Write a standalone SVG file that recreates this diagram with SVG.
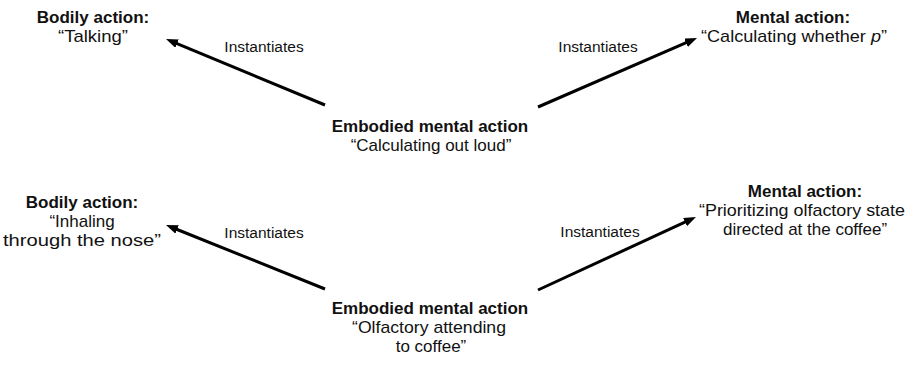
<svg xmlns="http://www.w3.org/2000/svg" width="913" height="365" viewBox="0 0 913 365">
<style>
text{font-family:"Liberation Sans",Arial,sans-serif;fill:#111;text-anchor:middle;font-size:17px}
.h{font-weight:bold}
.l{font-size:15.5px}
.c{stroke:#000;stroke-width:3;fill:none;marker-end:url(#ah)}
</style>
<defs>
<marker id="ah" markerUnits="userSpaceOnUse" markerWidth="13" markerHeight="10" refX="4" refY="4.5" orient="auto">
<path d="M0,0 L12,4.5 L0,9 z" fill="#000"/>
</marker>
</defs>
<rect width="913" height="365" fill="#fff"/>
<g id="connectors">
<line class="c" x1="325" y1="105" x2="173.4" y2="42.1"/>
<line class="c" x1="538" y1="107" x2="689.7" y2="41.2"/>
<line class="c" x1="325" y1="289" x2="173.4" y2="228"/>
<line class="c" x1="538" y1="290" x2="688.7" y2="220.4"/>
<text class="l" x="264" y="52">Instantiates</text>
<text class="l" x="598" y="52">Instantiates</text>
<text class="l" x="264" y="238">Instantiates</text>
<text class="l" x="600" y="237">Instantiates</text>
</g>
<g id="bodily1">
<text class="h" x="93" y="22.5">Bodily action:</text>
<text x="93" y="41.5" textLength="70" lengthAdjust="spacingAndGlyphs">“Talking”</text>
</g>
<g id="mental1">
<text class="h" x="793" y="22.5">Mental action:</text>
<text x="794" y="41.5" textLength="186" lengthAdjust="spacingAndGlyphs">“Calculating whether <tspan font-style="italic">p</tspan>”</text>
</g>
<g id="embodied1">
<text class="h" x="430" y="132">Embodied mental action</text>
<text x="431" y="151">“Calculating out loud”</text>
</g>
<g id="bodily2">
<text class="h" x="82" y="207.5">Bodily action:</text>
<text x="82" y="226.5">“Inhaling</text>
<text x="82" y="245.5" textLength="158" lengthAdjust="spacingAndGlyphs">through the nose”</text>
</g>
<g id="mental2">
<text class="h" x="805" y="197">Mental action:</text>
<text x="802" y="216" textLength="206" lengthAdjust="spacingAndGlyphs">“Prioritizing olfactory state</text>
<text x="805" y="235">directed at the coffee”</text>
</g>
<g id="embodied2">
<text class="h" x="430" y="314">Embodied mental action</text>
<text x="429" y="333" textLength="154" lengthAdjust="spacingAndGlyphs">“Olfactory attending</text>
<text x="431" y="352">to coffee”</text>
</g>
</svg>
